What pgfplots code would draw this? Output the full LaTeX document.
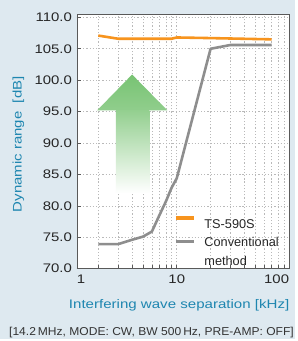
\documentclass[border=0pt]{standalone}
\usepackage{fontspec}
\setmainfont{Liberation Sans}[FakeStretch=1.2]
\newfontfamily\footfont{Liberation Sans}
\usepackage{pgfplots}
\pgfplotsset{compat=1.18}
\definecolor{bgc}{HTML}{DEE9F0}
\definecolor{labc}{HTML}{1E86B0}
\definecolor{orangec}{HTML}{F7941E}
\definecolor{greyc}{HTML}{8E8E8E}
\definecolor{arrowc}{HTML}{78C373}
\begin{document}
\begin{tikzpicture}
\fill[bgc] (-77.3pt,-71pt) rectangle (218.7pt,270pt);
\begin{axis}[
  name=ax, at={(0pt,0pt)}, anchor=south west,
  scale only axis, width=213.2pt, height=255.7pt,
  xmode=log, xmin=1.29, xmax=100, ymin=70, ymax=110.5,
  axis background/.style={fill=white},
  axis line style={draw=black!65, line width=0.8pt},
  xtick={1.29,10,100},
  xticklabels={\makebox[0pt][l]{1},10,\makebox[0pt][r]{100}},
  minor xtick={2,3,4,5,6,7,8,9,20,30,40,50,60,70,80,90},
  ytick={70,75,...,110},
  yticklabel style={/pgf/number format/fixed, /pgf/number format/fixed zerofill, /pgf/number format/precision=1, xshift=-1.5pt},
  xticklabel style={yshift=-3pt},
  /pgf/number format/assume math mode=true,
  ticklabel style={font=\fontsize{12.5}{14}\selectfont, text=black!85},
  tick pos=left, tick align=inside,
  major tick length=4pt, minor tick length=4pt,
  tick style={black!65, line width=0.6pt},
  xmajorgrids, xminorgrids, ymajorgrids,
  grid style={dash pattern=on 1.2pt off 2pt, gray!55, line width=0.6pt},
  minor grid style={dash pattern=on 1.2pt off 2pt, gray!55, line width=0.6pt},
  legend style={at={(axis description cs:0.458,0.206)}, anchor=north west, draw=none, fill=none, inner sep=0pt, row sep=3pt, column sep=7pt,
    font=\footfont\fontsize{12.8}{19.5}\selectfont, text=black!85, cells={anchor=west, align=left, inner sep=0pt}},
  legend image code/.code={\draw[#1, line width=3.3pt] (0pt,7pt) -- (18pt,7pt);},
  legend cell align=left,
]
\shade[top color=arrowc, bottom color=arrowc!82]
  (axis cs:4,100.9) -- (axis cs:8.24,95.2) -- (axis cs:1.954,95.2) -- cycle;
\shade[top color=arrowc!80, bottom color=white]
  (axis cs:5.70,95.25) -- (axis cs:5.70,82.0) -- (axis cs:2.87,82.0) -- (axis cs:2.87,95.25) -- cycle;
\addplot[orangec, line width=2.6pt, line join=round] coordinates {
  (2,107.1) (3,106.6) (9,106.6) (10,106.8) (20,106.7) (70,106.5)};
\addlegendentry{TS-590S}
\addplot[greyc, line width=2.6pt, line join=round, legend image post style={yshift=3.7pt}] coordinates {
  (2,73.9) (3,73.9) (4,74.6) (5,75.1) (6,75.9) (7,78.5) (8,80.7) (9,82.9) (10,84.4) (20,105.0) (30,105.6) (70,105.6)};
\addlegendentry{Conventional\\method}
\end{axis}
\node[rotate=90, text=labc, font=\fontsize{12.5}{14}\selectfont] at (-58.8pt,125pt) {\resizebox{136.3pt}{\height}{Dynamic range\ \ [dB]}};
\node[text=labc, font=\fontsize{12.5}{14}\selectfont] at (102.7pt,-36.7pt) {\resizebox{221.4pt}{\height}{Interfering wave separation [kHz]}};
\node[text=black!80, font=\footfont\fontsize{11.5}{13}\selectfont] at (74.9pt,-64pt) {\resizebox{286pt}{\height}{[14.2\,MHz, MODE: CW, BW 500\,Hz, PRE-AMP: OFF]}};
\end{tikzpicture}
\end{document}
